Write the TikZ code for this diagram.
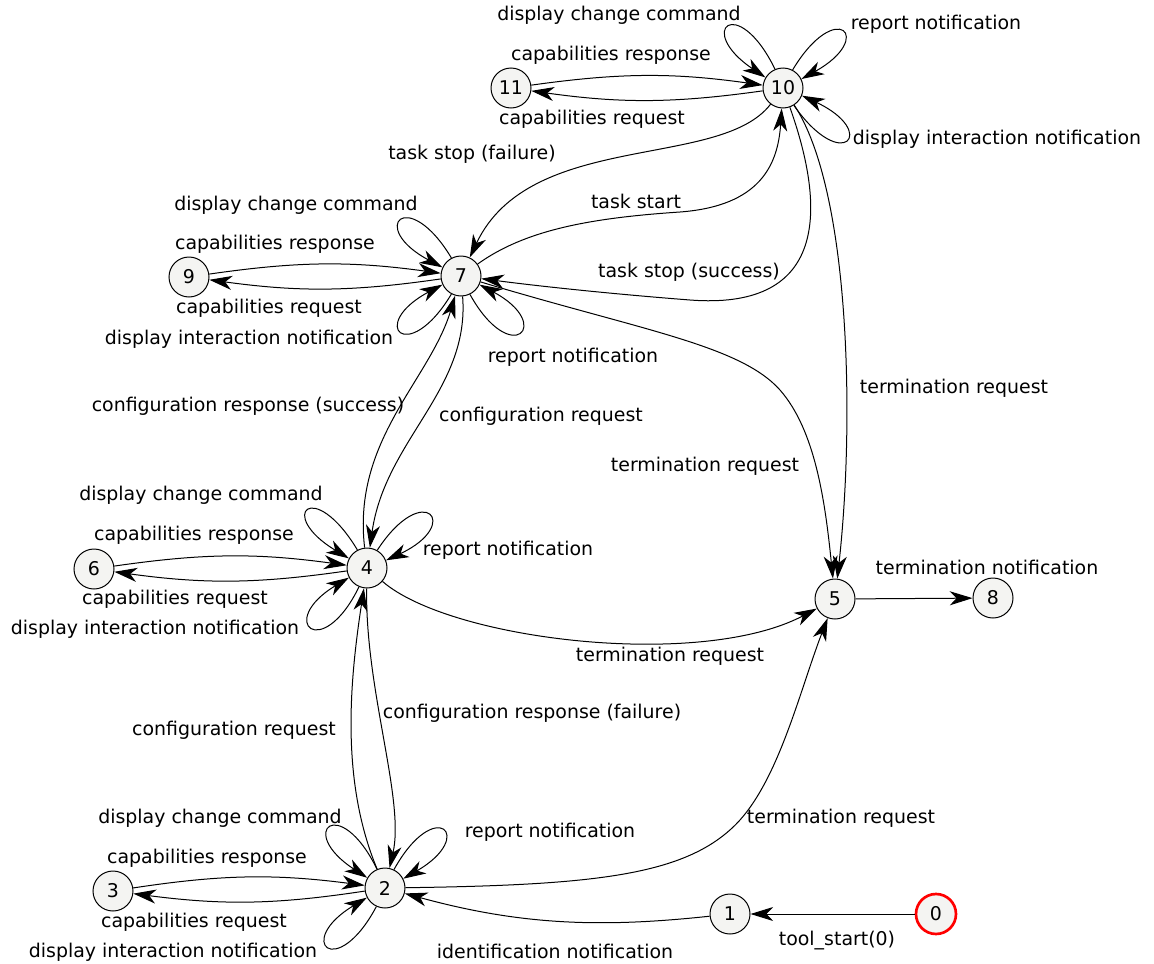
\documentclass[tikz,border=0pt]{standalone}
\usepackage{fontspec}
\setmainfont{DejaVu Sans}
\usetikzlibrary{arrows.meta}
\definecolor{nodefill}{HTML}{F4F4F2}
\tikzset{
  st/.style={circle,draw=black,fill=nodefill,line width=0.75pt,minimum size=30pt,inner sep=0pt,font=\fontsize{14.2}{17}\selectfont},
  startst/.style={st,draw=red,line width=2pt},
  lbl/.style={inner sep=0pt,font=\fontsize{14.2}{17}\selectfont},
  arr/.style={line width=0.75pt,-{Stealth[length=17pt,width=10.5pt,inset=5pt]}},
}
\begin{document}
\begin{tikzpicture}[x=0.75pt,y=-0.75pt]
\useasboundingbox (0,0) rectangle (1154,964);
% states
\node[st] (n10) at (783,88) {10};
\node[st] (n11) at (511,88) {11};
\node[st] (n7) at (461,276) {7};
\node[st] (n9) at (189,277) {9};
\node[st] (n4) at (367,568) {4};
\node[st] (n6) at (94,569) {6};
\node[st] (n5) at (835,599) {5};
\node[st] (n8) at (993,598) {8};
\node[st] (n2) at (385,888) {2};
\node[st] (n3) at (113,891) {3};
\node[st] (n1) at (730,914) {1};
\node[startst] (n0) at (936,914) {0};

% node 10
\draw[arr] (n11) to[bend left=8] (n10);
\draw[arr] (n10) to[bend left=8] (n11);
\draw[arr] (n10.113) .. controls +(116:64pt) and +(146:64pt) .. (n10.149);
\draw[arr] (n10.62) .. controls +(59:64pt) and +(29:64pt) .. (n10.26);
\draw[arr] (n10.-58) .. controls +(-55:64pt) and +(-25:64pt) .. (n10.-22);
\draw[arr] (n10) .. controls (720,170) and (530,130) .. (n7);
\draw[arr] (n7) .. controls (525,230) and (590,218) .. (680,212) .. controls (760,206) and (778,165) .. (n10);
\draw[arr] (n10) .. controls (830,220) and (820,310) .. (690,300) .. controls (600,293) and (530,285) .. (n7);
\draw[arr] (n10) .. controls (850,190) and (855,420) .. (n5);

% node 7
\draw[arr] (n9) to[bend left=8] (n7);
\draw[arr] (n7) to[bend left=8] (n9);
\draw[arr] (n7.118) .. controls +(121:64pt) and +(152:64pt) .. (n7.155);
\draw[arr] (n7.-118) .. controls +(-121:64pt) and +(-152:64pt) .. (n7.-155);
\draw[arr] (n7.-64) .. controls +(-61:64pt) and +(-28:64pt) .. (n7.-25);
\draw[arr] (n7) .. controls (640,330) and (740,345) .. (780,390) .. controls (815,430) and (825,500) .. (n5);
\draw[arr] (n7) .. controls (470,390) and (385,440) .. (n4);
\draw[arr] (n4) .. controls (352,440) and (430,380) .. (n7);

% node 4
\draw[arr] (n6) to[bend left=8] (n4);
\draw[arr] (n4) to[bend left=8] (n6);
\draw[arr] (n4.118) .. controls +(121:64pt) and +(149:64pt) .. (n4.152);
\draw[arr] (n4.60) .. controls +(57:64pt) and +(25:64pt) .. (n4.22);
\draw[arr] (n4.-113) .. controls +(-116:64pt) and +(-149:64pt) .. (n4.-152);
\draw[arr] (n4) .. controls (450,640) and (700,670) .. (n5);
\draw[arr] (n4) .. controls (365,690) and (405,800) .. (n2);
\draw[arr] (n2) .. controls (340,780) and (350,680) .. (n4);

% node 2
\draw[arr] (n3) to[bend left=8] (n2);
\draw[arr] (n2) to[bend left=8] (n3);
\draw[arr] (n2.113) .. controls +(116:64pt) and +(147:64pt) .. (n2.150);
\draw[arr] (n2.64) .. controls +(61:64pt) and +(30:64pt) .. (n2.27);
\draw[arr] (n2.-115) .. controls +(-118:64pt) and +(-149:64pt) .. (n2.-152);
\draw[arr] (n2) .. controls (600,885) and (690,875) .. (740,820) .. controls (780,775) and (800,690) .. (n5);
\draw[arr] (n1) .. controls (600,928) and (520,925) .. (n2);
\draw[arr] (n0) -- (n1);
\draw[arr] (n5) -- (n8);

% labels
\node[lbl] (t1) at (619,15) {display change command};
\node[lbl] (t2) at (936,24) {report notification};
\node[lbl] (t3) at (611,55) {capabilities response};
\node[lbl] (t4) at (592,119) {capabilities request};
\node[lbl] (t5) at (997,139) {display interaction notification};
\node[lbl] (t6) at (472,154) {task stop (failure)};
\node[lbl] (t7) at (636,201) {task start};
\node[lbl] (t8) at (296,205) {display change command};
\node[lbl] (t9) at (275,244) {capabilities response};
\node[lbl] (t10) at (689,272) {task stop (success)};
\node[lbl] (t11) at (269,308) {capabilities request};
\node[lbl] (t12) at (249,339) {display interaction notification};
\node[lbl] (t13) at (573,357) {report notification};
\node[lbl] (t14) at (954,388) {termination request};
\node[lbl] (t15) at (248,406) {configuration response (success)};
\node[lbl] (t16) at (541,416) {configuration request};
\node[lbl] (t17) at (705,466) {termination request};
\node[lbl] (t18) at (201,495) {display change command};
\node[lbl] (t19) at (194,535) {capabilities response};
\node[lbl] (t20) at (508,550) {report notification};
\node[lbl] (t21) at (987,567) {termination notification};
\node[lbl] (t22) at (175,599) {capabilities request};
\node[lbl] (t23) at (155,629) {display interaction notification};
\node[lbl] (t24) at (670,656) {termination request};
\node[lbl] (t25) at (532,713) {configuration response (failure)};
\node[lbl] (t26) at (234,730) {configuration request};
\node[lbl] (t27) at (841,818) {termination request};
\node[lbl] (t28) at (220,818) {display change command};
\node[lbl] (t29) at (550,832) {report notification};
\node[lbl] (t30) at (207,858) {capabilities response};
\node[lbl] (t31) at (194,922) {capabilities request};
\node[lbl] (t32) at (173,952) {display interaction notification};
\node[lbl] (t33) at (555,951) {identification notification};
\node[lbl] (t34) at (837,941) {tool\_start(0)};
\end{tikzpicture}
\end{document}
